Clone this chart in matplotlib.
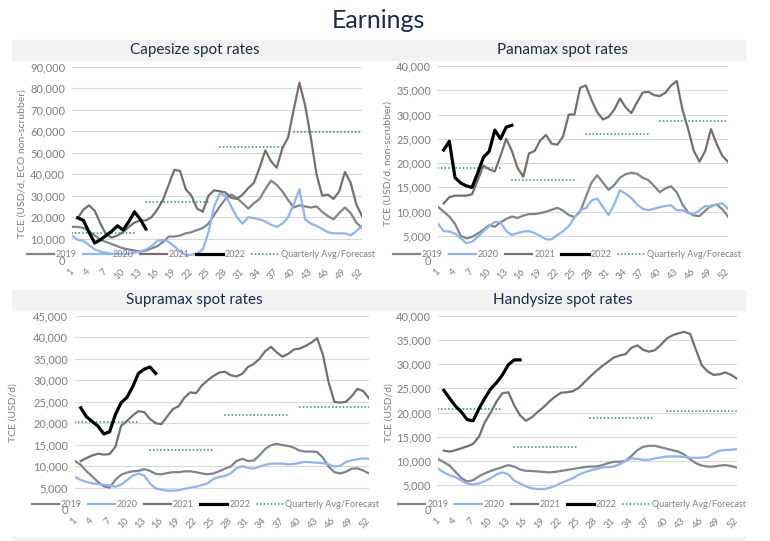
import numpy as np
import matplotlib.pyplot as plt
from matplotlib.patches import Rectangle

plt.rcParams['font.family'] = ['Lato', 'DejaVu Sans']

# weekly TCE rates (USD/day), week 1..52; None = no data that week
weeks = np.arange(1, 53)
tick_weeks = list(range(1, 53, 3))

cape_2019 = [15500, 15500, 15000, 13500, 11500, 9500, 8500, 7500, 6500, 5500,
             5000, 4500, 4000, 4500, 5500, 6500, 8500, 11000, 11000, 11500,
             12500, 13000, 14000, 15000, 17000, 21000, 25000, 28500, 30500, 29000,
             26500, 24000, 26500, 28500, 33000, 37000, 35000, 32000, 28000, 24500,
             25500, 25000, 24500, 25000, 22500, 20500, 19000, 22000, 24500, 22000,
             17500, 15000]
cape_2020 = [11500, 9500, 9000, 7000, 5000, 4000, 3500, 3000, 3000, 3000,
             3000, 3500, 4000, 5000, 6500, 9000, 9500, 8500, 6500, 4000,
             2500, 2500, 3000, 5000, 13000, 25000, 31000, 30000, 25000, 20000,
             17000, 20000, 19500, 19000, 18000, 16500, 15500, 17000, 20000, 26000,
             33000, 19000, 17000, 16000, 14500, 13000, 12500, 12500, 12500, 11500,
             13500, 16000]
cape_2021 = [None, 19500, 23500, 25500, 23000, 17000, 12000, 10500, 11500, 13000,
             15500, 17500, 18500, 18500, 20000, 23500, 28000, 35000, 42000, 41500,
             33000, 30000, 24000, 22500, 30000, 32500, 32000, 31500, 29000, 28500,
             30500, 33500, 36000, 43000, 51000, 46000, 43000, 52000, 57000, 70000,
             82500, 72000, 57000, 40000, 30000, 30500, 28500, 32000, 41000, 36000,
             26000, 20500]
cape_2022 = [19700, 18500, 13000, 8000, 9500, 11500, 13500, 16000, 14000, 18000,
             22500, 19000, 14500]
cape_q = [12500, 27000, 52500, 59500]

pmx_2019 = [11000, 10000, 9000, 7500, 5000, 4500, 4800, 5500, 6300, 7200,
            6900, 7800, 8500, 9000, 8700, 9200, 9500, 9500, 9700, 10000,
            10400, 10800, 10200, 9300, 8900, 10000, 13000, 16000, 17500, 16000,
            14500, 15500, 17000, 17700, 18000, 17800, 17000, 16500, 15300, 14000,
            14800, 15200, 14000, 11500, 9800, 9200, 9100, 10200, 11200, 11500,
            10500, 9000]
pmx_2020 = [7500, 6000, 5900, 5500, 4500, 3500, 3800, 4800, 6000, 7000,
            7900, 7800, 6000, 5200, 5600, 5900, 6000, 5600, 5000, 4300,
            4300, 5200, 6000, 7000, 8800, 10300, 10700, 12300, 12700, 11000,
            9300, 11500, 14400, 13700, 12800, 11500, 10600, 10300, 10600, 10900,
            11200, 11300, 10300, 10300, 9700, 9500, 10300, 11200, 11000, 11500,
            11700, 10600]
pmx_2021 = [None, 11700, 13000, 13300, 13300, 13300, 13600, 16500, 19500, 18700,
            18300, 21500, 25000, 22500, 19000, 17200, 22000, 22500, 24700, 25800,
            24000, 23800, 25500, 30000, 30000, 35500, 36000, 33000, 30500, 29000,
            29500, 31000, 33300, 31500, 30300, 32500, 34500, 34700, 34000, 33800,
            34500, 36000, 36900, 31000, 27000, 22500, 20300, 22500, 27000, 24000,
            21500, 20300]
pmx_2022 = [22700, 24500, 17000, 15900, 15300, 15000, 18000, 21200, 22400, 26800,
            25000, 27400, 27800]
pmx_q = [18900, 16500, 26000, 28700]

supra_2019 = [11200, 10300, 8800, 7600, 6300, 5300, 5000, 6800, 8000, 8500,
              8800, 8900, 9300, 8900, 8200, 8100, 8400, 8600, 8600, 8800,
              8800, 8600, 8300, 8100, 8300, 8800, 9400, 9900, 11200, 11700,
              11200, 11300, 12500, 14000, 14900, 15200, 14900, 14700, 14300, 13600,
              13400, 13400, 13300, 12000, 9900, 8600, 8300, 8700, 9400, 9500,
              9000, 8300]
supra_2020 = [7500, 6800, 6300, 6000, 5800, 5700, 5500, 5200, 5700, 6700,
              7800, 8300, 7800, 6000, 4800, 4500, 4300, 4300, 4400, 4700,
              5000, 5200, 5600, 6000, 7000, 7500, 7700, 8300, 9500, 10000,
              9600, 9400, 9900, 10300, 10600, 10600, 10600, 10400, 10500, 10800,
              11000, 10900, 10800, 10700, 10400, 9900, 10100, 11000, 11400, 11600,
              11800, 11700]
supra_2021 = [None, 11200, 11900, 12500, 12900, 12700, 12800, 14500, 19400, 20500,
              21800, 22800, 22600, 21000, 20000, 19800, 21600, 23300, 24000, 26000,
              27200, 27000, 28800, 30000, 31000, 31800, 32000, 31200, 30900, 31500,
              33100, 33800, 35000, 36800, 37800, 36500, 35500, 36200, 37200, 37400,
              38000, 38800, 39800, 36000, 29500, 25000, 24800, 25000, 26300, 28000,
              27500, 25800]
supra_2022 = [23600, 21500, 20400, 19300, 17500, 18000, 22000, 24800, 26000, 28500,
              31600, 32600, 33100, 31600]
supra_q = [20300, 13700, 21900, 23800]

handy_2019 = [10400, 9700, 9000, 7700, 6400, 5700, 6000, 6800, 7400, 7900,
              8300, 8700, 9100, 8800, 8200, 7900, 7900, 7800, 7700, 7600,
              7700, 7900, 8100, 8300, 8500, 8700, 8800, 8800, 9100, 9500,
              9800, 9800, 10000, 11000, 12200, 12900, 13100, 13100, 12800, 12500,
              12200, 11900, 11300, 10300, 9500, 9000, 8800, 8800, 9000, 9100,
              8900, 8600]
handy_2020 = [8400, 7600, 7000, 6600, 5900, 5300, 5100, 5300, 5800, 6400,
              7200, 7600, 7200, 5900, 5300, 4700, 4300, 4150, 4150, 4400,
              4800, 5400, 5900, 6400, 7100, 7600, 8000, 8300, 8600, 8700,
              8800, 9300, 10000, 10500, 10400, 10200, 10200, 10500, 10700, 10900,
              10900, 10900, 10800, 10650, 10600, 10650, 10800, 11500, 12100, 12200,
              12300, 12400]
handy_2021 = [None, 12100, 11900, 12200, 12600, 13000, 13500, 15000, 18000, 20000,
              22300, 24000, 24200, 21500, 19400, 18300, 19000, 20100, 21100, 22300,
              23300, 24100, 24200, 24400, 25100, 26300, 27500, 28600, 29600, 30500,
              31400, 31800, 32100, 33400, 33900, 33000, 32600, 32900, 34000, 35300,
              36000, 36400, 36700, 36300, 33000, 29800, 28500, 27800, 27900, 28300,
              27800, 27000]
handy_2022 = [24600, 22900, 21300, 20100, 18500, 18300, 20800, 23000, 24900, 26200,
              27800, 29900, 30900, 30900]
handy_q = [20700, 12900, 18900, 20400]

q_start = [1, 14, 27, 40]
q_end = [12, 25, 38, 52]
first_week_2022 = 2

navy = '#1b2a4e'
grey_txt = '#7f7f7f'
c2019 = '#80848c'
c2020 = '#8fb4ee'
c2021 = '#7a6e6a'
c2022 = '#000000'
cq = '#1f9e57'

fig = plt.figure(figsize=(7.7, 5.41), dpi=100)

fig.text(0.491, 0.963, 'Earnings', fontsize=18, color=navy, ha='center', va='center')
for yb in [0.889, 0.427]:
    fig.add_artist(Rectangle((0.0156, yb), 0.952, 0.037, transform=fig.transFigure,
                             color='#f2f2f2', zorder=0))
fig.add_artist(Rectangle((0.0156, 0.0), 0.952, 0.007, transform=fig.transFigure,
                         color='#f2f2f2', zorder=0))


def draw_panel(rect, title, title_xy, ylabel, ylabel_x, ymax, ystep,
               y19, y20, y21, y22, quarters, legend_xy):
    ax = fig.add_axes(rect)
    ax.set_facecolor('none')
    ax.plot(weeks, np.array(y19, dtype=float), color=c2019, lw=1.6, label='2019')
    ax.plot(weeks, np.array(y20, dtype=float), color=c2020, lw=1.6, label='2020')
    ax.plot(weeks, np.array(y21, dtype=float), color=c2021, lw=1.6, label='2021')
    w22 = np.arange(first_week_2022, first_week_2022 + len(y22))
    ax.plot(w22, y22, color=c2022, lw=2.3, label='2022', zorder=4)
    for i, q in enumerate(quarters):
        ax.plot([q_start[i], q_end[i]], [q, q], color=cq, lw=1.3,
                linestyle=(0, (0.01, 2.0)), dash_capstyle='round',
                label='Quarterly Avg/Forecast' if i == 0 else None)

    ax.set_xlim(1, 52)
    ax.set_ylim(0, ymax)
    ax.set_yticks(np.arange(0, ymax + 1, ystep))
    ax.set_yticklabels([f'{v:,.0f}' for v in np.arange(0, ymax + 1, ystep)])
    ax.set_xticks(tick_weeks)
    ax.set_xticklabels([str(w) for w in tick_weeks], rotation=45, ha='right',
                       va='center', rotation_mode='anchor')
    ax.tick_params(axis='y', length=0, labelsize=8, colors=grey_txt, pad=5)
    ax.tick_params(axis='x', length=0, labelsize=7, colors=grey_txt, pad=7)
    ax.grid(axis='y', color='#d9d9d9', lw=0.8)
    ax.set_axisbelow(True)
    for s in ax.spines.values():
        s.set_visible(False)

    ax.set_ylabel(ylabel, fontsize=7.5, color=grey_txt)
    ax.yaxis.set_label_coords(ylabel_x, 0.5)

    fig.text(title_xy[0], title_xy[1], title, fontsize=11, color=navy,
             ha='center', va='center')
    ax.legend(loc='center', bbox_to_anchor=legend_xy, bbox_transform=fig.transFigure,
              ncol=5, frameon=False, fontsize=6.5, handlelength=3.0,
              handletextpad=0.2, columnspacing=0.7, labelcolor=grey_txt,
              borderaxespad=0)
    return ax


draw_panel([0.0935, 0.519, 0.3766, 0.358], 'Capesize spot rates', (0.253, 0.908),
           'TCE (USD/d, ECO non-scrubber)', -0.155, 90000, 10000,
           cape_2019, cape_2020, cape_2021, cape_2022, cape_q, (0.261, 0.530))
draw_panel([0.5688, 0.519, 0.3766, 0.359], 'Panamax spot rates', (0.7305, 0.908),
           'TCE (USD/d, non-scrubber)', -0.155, 40000, 5000,
           pmx_2019, pmx_2020, pmx_2021, pmx_2022, pmx_q, (0.736, 0.530))
draw_panel([0.0974, 0.059, 0.3818, 0.357], 'Supramax spot rates', (0.253, 0.4455),
           'TCE (USD/d)', -0.197, 45000, 5000,
           supra_2019, supra_2020, supra_2021, supra_2022, supra_q, (0.267, 0.068))
draw_panel([0.5688, 0.059, 0.3883, 0.357], 'Handysize spot rates', (0.7305, 0.4455),
           'TCE (USD/d)', -0.150, 40000, 5000,
           handy_2019, handy_2020, handy_2021, handy_2022, handy_q, (0.743, 0.068))

fig.savefig('out.png', dpi=100)
